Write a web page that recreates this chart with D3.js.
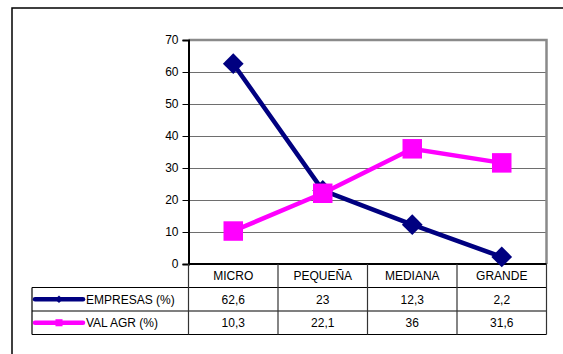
<!DOCTYPE html>
<html>
<head>
<meta charset="utf-8">
<script src="https://cdn.jsdelivr.net/npm/d3@7"></script>
<style>
  html, body { margin: 0; padding: 0; background: #fff; }
  svg { display: block; }
  text { font-family: "Liberation Sans", Arial, sans-serif; font-size: 12px; fill: #000; }
</style>
</head>
<body>
<svg id="chart" width="563" height="354"></svg>
<script>
// Company size categories
const categories = ["MICRO", "PEQUEÑA", "MEDIANA", "GRANDE"];
// Share of companies (%)
const empresas = [62.6, 23, 12.3, 2.2];
// Share of aggregated value (%)
const valAgr = [10.3, 22.1, 36, 31.6];
const seriesNames = ["EMPRESAS (%)", "VAL AGR (%)"];
const yTicks = [0, 10, 20, 30, 40, 50, 60, 70];

const svg = d3.select("#chart");
const plotL = 188.5, plotR = 546.5, plotT = 40, plotB = 264;
const rowH = 23.5;

const x = d3.scaleBand().domain(categories).range([plotL, plotR]).padding(0);
const y = d3.scaleLinear().domain([0, 70]).range([plotB, plotT]);
const cx = c => x(c) + x.bandwidth() / 2;

// outer frame
svg.append("rect")
  .attr("x", 12).attr("y", 8).attr("width", 600).attr("height", 400)
  .attr("fill", "#fff").attr("stroke", "#000").attr("stroke-width", 1.5);

// gridlines
svg.append("g").selectAll("line")
  .data(yTicks.filter(t => t > 0 && t < 70))
  .join("line")
  .attr("x1", plotL).attr("x2", plotR)
  .attr("y1", d => Math.round(y(d)) + 0.5).attr("y2", d => Math.round(y(d)) + 0.5)
  .attr("stroke", "#6e6e6e").attr("stroke-width", 1);

// plot border (top and right)
svg.append("path")
  .attr("d", `M${plotL},${plotT} H${plotR} V${plotB}`)
  .attr("fill", "none").attr("stroke", "#8a8a8a").attr("stroke-width", 2.5);

// y axis
const yAxis = d3.axisLeft(y).tickValues(yTicks).tickSize(6).tickPadding(4);
const gy = svg.append("g").attr("transform", `translate(${plotL},0)`).call(yAxis);
gy.select(".domain").attr("stroke", "#000").attr("stroke-width", 2);
gy.selectAll(".tick line").attr("stroke", "#000");
gy.selectAll(".tick text").style("font-size", "12px").attr("fill", "#000")
  .style("font-family", "'Liberation Sans', Arial, sans-serif");

// data table
const tbl = svg.append("g");
const rowsY = [plotB, plotB + rowH, plotB + 2 * rowH, plotB + 3 * rowH];
const tableLeft = 32;
// horizontal lines
tbl.append("line").attr("x1", plotL).attr("x2", plotR).attr("y1", plotB).attr("y2", plotB)
  .attr("stroke", "#000").attr("stroke-width", 2);
[rowsY[1], rowsY[2], rowsY[3]].forEach(yy => {
  tbl.append("line").attr("x1", tableLeft).attr("x2", plotR)
    .attr("y1", yy).attr("y2", yy).attr("stroke", "#000").attr("stroke-width", 1.2);
});
// vertical lines
const colEdges = categories.map(c => x(c)).concat([plotR]);
colEdges.forEach(xx => {
  tbl.append("line").attr("x1", xx).attr("x2", xx).attr("y1", plotB).attr("y2", rowsY[3])
    .attr("stroke", "#333").attr("stroke-width", 1.2);
});
tbl.append("line").attr("x1", tableLeft).attr("x2", tableLeft).attr("y1", rowsY[1]).attr("y2", rowsY[3])
  .attr("stroke", "#000").attr("stroke-width", 1.2);

// category header
tbl.selectAll("text.cat").data(categories).join("text").attr("class", "cat")
  .attr("x", d => cx(d)).attr("y", plotB + 16).attr("text-anchor", "middle").text(d => d);

const fmt = v => String(v).replace(".", ",");
[empresas, valAgr].forEach((vals, i) => {
  tbl.selectAll(`text.v${i}`).data(vals).join("text").attr("class", `v${i}`)
    .attr("x", (d, j) => cx(categories[j])).attr("y", rowsY[1 + i] + 16)
    .attr("text-anchor", "middle").text(d => fmt(d));
});

// series
const colors = ["#000080", "#ff00ff"];
const line = d3.line().x((d, i) => cx(categories[i])).y(d => y(d));
const diamond = d3.symbol().type(d3.symbolSquare).size(215);
const square = d3.symbol().type(d3.symbolSquare).size(380);

// EMPRESAS
svg.append("path").datum(empresas).attr("d", line)
  .attr("fill", "none").attr("stroke", colors[0]).attr("stroke-width", 4.5);
svg.append("g").selectAll("path").data(empresas).join("path")
  .attr("d", diamond)
  .attr("transform", (d, i) => `translate(${cx(categories[i])},${y(d)}) rotate(45)`)
  .attr("fill", colors[0]);

// VAL AGR
svg.append("path").datum(valAgr).attr("d", line)
  .attr("fill", "none").attr("stroke", colors[1]).attr("stroke-width", 4.5);
svg.append("g").selectAll("path").data(valAgr).join("path")
  .attr("d", square)
  .attr("transform", (d, i) => `translate(${cx(categories[i])},${y(d)})`)
  .attr("fill", colors[1]);

// legend keys inside the table
const keyX1 = 35, keyX2 = 83;
const smallDiamond = d3.symbol().type(d3.symbolSquare).size(30);
const smallSquare = d3.symbol().type(d3.symbolSquare).size(50);
seriesNames.forEach((name, i) => {
  const cy = rowsY[1 + i] + rowH / 2;
  tbl.append("line").attr("x1", keyX1).attr("x2", keyX2).attr("y1", cy).attr("y2", cy)
    .attr("stroke", colors[i]).attr("stroke-width", 4.5).attr("stroke-linecap", "round");
  tbl.append("path").attr("d", i === 0 ? smallDiamond : smallSquare)
    .attr("transform", `translate(${(keyX1 + keyX2) / 2},${cy})` + (i === 0 ? " rotate(45)" : ""))
    .attr("fill", colors[i]);
  tbl.append("text").attr("x", 86).attr("y", rowsY[1 + i] + 16).text(name);
});
</script>
</body>
</html>
